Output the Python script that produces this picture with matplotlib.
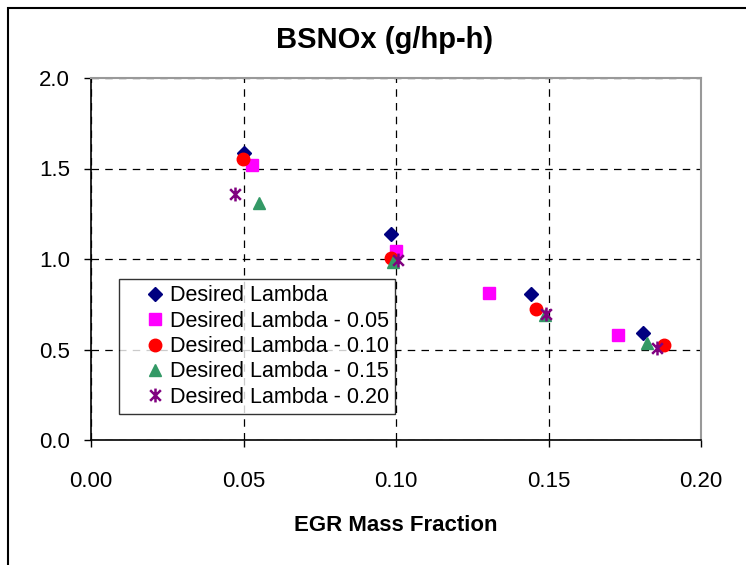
import matplotlib
matplotlib.use('Agg')
import matplotlib.pyplot as plt
from matplotlib.path import Path
from matplotlib.patches import Rectangle

plt.rcParams['font.family'] = ['Liberation Sans', 'DejaVu Sans']

# EGR mass fraction / BSNOx per series
labels = ['Desired Lambda', 'Desired Lambda - 0.05', 'Desired Lambda - 0.10',
          'Desired Lambda - 0.15', 'Desired Lambda - 0.20']
x_lam = [0.0502, 0.0984, 0.1443, 0.1810]
y_lam = [1.586, 1.138, 0.807, 0.591]
x_05 = [0.0527, 0.1000, 0.1306, 0.1727]
y_05 = [1.519, 1.046, 0.810, 0.580]
x_10 = [0.0499, 0.0983, 0.1458, 0.1879]
y_10 = [1.552, 1.004, 0.724, 0.525]
x_15 = [0.0551, 0.0989, 0.1489, 0.1822]
y_15 = [1.308, 0.985, 0.691, 0.538]
x_20 = [0.0472, 0.1008, 0.1492, 0.1857]
y_20 = [1.359, 0.994, 0.694, 0.507]

# excel style star: an X with a vertical bar
star = Path([(-1, -1), (1, 1), (-1, 1), (1, -1), (0, -1.3), (0, 1.3)],
            [Path.MOVETO, Path.LINETO, Path.MOVETO, Path.LINETO, Path.MOVETO, Path.LINETO])

fig = plt.figure(figsize=(7.46, 5.65), dpi=100)
ax = fig.add_axes([91/746, 1-440/565, 610/746, 362/565])

ax.plot(x_lam, y_lam, 'D', color='#000080', ms=7, ls='none', label=labels[0], zorder=3)
ax.plot(x_05, y_05, 's', color='#FF00FF', ms=8, ls='none', label=labels[1], zorder=3)
ax.plot(x_10, y_10, 'o', color='#FF0000', ms=9, ls='none', label=labels[2], zorder=3)
ax.plot(x_15, y_15, '^', color='#339966', ms=9, ls='none', label=labels[3], zorder=3)
ax.plot(x_20, y_20, marker=star, color='#800080', ms=10, mew=1.8, ls='none', label=labels[4], zorder=3)

ax.set_xlim(0, 0.2)
ax.set_ylim(0, 2.0)
ax.set_xticks([0, 0.05, 0.10, 0.15, 0.20])
ax.set_xticklabels(['0.00', '0.05', '0.10', '0.15', '0.20'])
ax.set_yticks([0, 0.5, 1.0, 1.5, 2.0])
ax.set_yticklabels(['0.0', '0.5', '1.0', '1.5', '2.0'])
ax.tick_params(direction='out', length=5, width=1, labelsize=16)
ax.tick_params(axis='x', pad=17)
ax.tick_params(axis='y', pad=10)
ax.grid(True, color='black', ls=(0, (6, 5)), lw=0.9)
ax.set_axisbelow(True)
for s in ['top', 'right']:
    ax.spines[s].set_color('#999999')
    ax.spines[s].set_linewidth(1.5)
for s in ['left', 'bottom']:
    ax.spines[s].set_color('black')
    ax.spines[s].set_linewidth(1.2)

ax.set_xlabel('EGR Mass Fraction', fontsize=16, fontweight='bold', labelpad=17)
fig.text(385/746, 1-40/565, 'BSNOx (g/hp-h)', ha='center', va='center',
         fontsize=21, fontweight='bold')

leg = ax.legend(loc='upper left', bbox_to_anchor=((119-91)/610, (440-279)/362),
                fontsize=15.5, frameon=True, fancybox=False, edgecolor='black',
                borderpad=0.3, labelspacing=0.2, handletextpad=-0.65, handlelength=2.7,
                borderaxespad=0)
leg.get_frame().set_linewidth(1.0)

# outer chart border
fig.patches.append(Rectangle((8/746, -0.1), 1.2, 1.1 - 8/565, transform=fig.transFigure,
                             fill=False, edgecolor='black', lw=1.5))

fig.savefig('out.png', dpi=100)
